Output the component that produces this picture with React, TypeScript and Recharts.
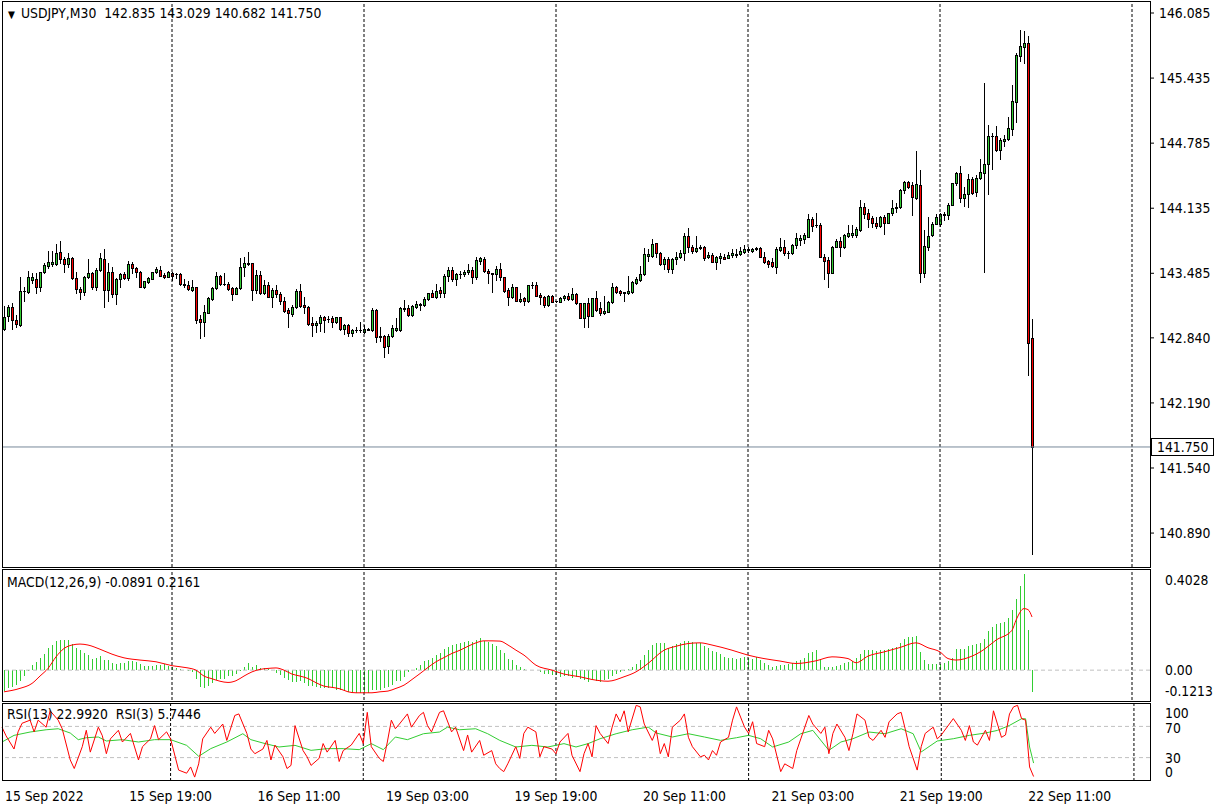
import React from 'react';
import { ComposedChart, Bar, Line, XAxis, YAxis, ReferenceLine } from 'recharts';

// USDJPY M30, 15 - 22 Sep 2022, one value per candle
const opens = [
  142.924, 143.057, 143.150, 143.017, 142.967, 143.304, 143.300, 143.417, 143.424, 143.344,
  143.494, 143.560, 143.574, 143.574, 143.697, 143.624, 143.574, 143.634, 143.434, 143.327,
  143.300, 143.450, 143.484, 143.350, 143.517, 143.624, 143.317, 143.494, 143.274, 143.424,
  143.474, 143.434, 143.577, 143.534, 143.500, 143.350, 143.400, 143.430, 143.494, 143.517,
  143.470, 143.450, 143.484, 143.477, 143.477, 143.380, 143.367, 143.317, 143.344, 143.027,
  143.000, 143.090, 143.227, 143.334, 143.457, 143.377, 143.377, 143.334, 143.277, 143.334,
  143.544, 143.584, 143.584, 143.317, 143.467, 143.284, 143.368, 143.251, 143.318, 143.278,
  143.211, 143.118, 143.075, 143.151, 143.308, 143.165, 143.145, 142.991, 142.965, 142.991,
  143.045, 143.031, 143.041, 143.001, 143.045, 142.925, 142.968, 142.885, 142.918, 142.921,
  142.898, 142.925, 142.918, 143.118, 142.861, 142.858, 142.758, 142.858, 142.917, 142.917,
  143.130, 143.134, 143.067, 143.150, 143.170, 143.167, 143.224, 143.284, 143.244, 143.317,
  143.290, 143.457, 143.514, 143.424, 143.477, 143.474, 143.494, 143.517, 143.444, 143.610,
  143.624, 143.510, 143.484, 143.474, 143.524, 143.444, 143.317, 143.244, 143.344, 143.210,
  143.234, 143.210, 143.367, 143.367, 143.267, 143.250, 143.167, 143.257, 143.207, 143.200,
  143.234, 143.257, 143.227, 143.274, 143.184, 143.040, 143.184, 143.060, 143.234, 143.134,
  143.084, 143.100, 143.194, 143.344, 143.307, 143.294, 143.284, 143.300, 143.390, 143.417,
  143.474, 143.660, 143.660, 143.784, 143.690, 143.577, 143.624, 143.524, 143.624, 143.644,
  143.684, 143.857, 143.750, 143.710, 143.740, 143.744, 143.644, 143.667, 143.600, 143.634,
  143.650, 143.640, 143.664, 143.664, 143.674, 143.700, 143.720, 143.707, 143.730, 143.734,
  143.650, 143.607, 143.594, 143.550, 143.717, 143.744, 143.690, 143.684, 143.767, 143.817,
  143.830, 143.850, 144.024, 143.967, 143.967, 143.650, 143.617, 143.490, 143.750, 143.807,
  143.744, 143.857, 143.867, 143.867, 143.917, 144.150, 144.090, 144.034, 143.990, 143.960,
  144.050, 143.990, 144.084, 144.134, 144.144, 144.317, 144.400, 144.367, 144.242, 144.365,
  143.488, 143.748, 143.865, 143.982, 143.975, 144.072, 144.072, 144.172, 144.382, 144.488,
  144.242, 144.282, 144.422, 144.298, 144.432, 144.488, 144.572, 144.852, 144.855, 144.715,
  144.808, 144.825, 144.925, 145.198, 145.658, 145.748, 145.782, 142.835,
];
const highs = [
  143.157, 143.167, 143.190, 143.067, 143.450, 143.344, 143.510, 143.484, 143.484, 143.500,
  143.584, 143.710, 143.710, 143.777, 143.807, 143.650, 143.684, 143.650, 143.500, 143.350,
  143.457, 143.624, 143.500, 143.534, 143.684, 143.724, 143.584, 143.544, 143.434, 143.484,
  143.500, 143.610, 143.600, 143.544, 143.507, 143.410, 143.450, 143.500, 143.550, 143.557,
  143.490, 143.510, 143.500, 143.490, 143.484, 143.424, 143.410, 143.417, 143.350, 143.067,
  143.167, 143.244, 143.344, 143.500, 143.467, 143.484, 143.394, 143.350, 143.350, 143.634,
  143.650, 143.694, 143.590, 143.517, 143.510, 143.417, 143.401, 143.335, 143.368, 143.301,
  143.251, 143.135, 143.168, 143.325, 143.375, 143.251, 143.158, 143.051, 143.011, 143.068,
  143.058, 143.058, 143.058, 143.051, 143.051, 142.978, 142.978, 142.925, 142.945, 143.001,
  142.968, 142.935, 143.135, 143.125, 142.951, 142.868, 142.875, 142.968, 143.034, 143.150,
  143.217, 143.167, 143.167, 143.210, 143.184, 143.244, 143.290, 143.317, 143.377, 143.350,
  143.477, 143.544, 143.544, 143.484, 143.510, 143.517, 143.577, 143.544, 143.644, 143.644,
  143.650, 143.524, 143.490, 143.557, 143.584, 143.450, 143.334, 143.377, 143.350, 143.284,
  143.244, 143.367, 143.400, 143.400, 143.284, 143.257, 143.267, 143.264, 143.210, 143.250,
  143.267, 143.290, 143.334, 143.284, 143.190, 143.190, 143.234, 143.240, 143.307, 143.200,
  143.257, 143.210, 143.390, 143.357, 143.317, 143.300, 143.457, 143.410, 143.450, 143.557,
  143.734, 143.724, 143.824, 143.790, 143.700, 143.650, 143.644, 143.634, 143.700, 143.717,
  143.884, 143.934, 143.767, 143.857, 143.767, 143.757, 143.700, 143.684, 143.657, 143.690,
  143.677, 143.700, 143.724, 143.724, 143.744, 143.767, 143.744, 143.734, 143.744, 143.744,
  143.700, 143.617, 143.634, 143.750, 143.834, 143.817, 143.710, 143.777, 143.890, 143.867,
  143.884, 144.074, 144.044, 144.084, 143.984, 143.677, 143.644, 143.757, 143.824, 143.844,
  143.874, 143.967, 143.967, 143.950, 144.217, 144.190, 144.124, 144.057, 144.050, 144.057,
  144.067, 144.090, 144.217, 144.184, 144.324, 144.410, 144.410, 144.400, 144.705, 144.515,
  143.915, 144.048, 143.998, 144.075, 144.088, 144.098, 144.188, 144.388, 144.498, 144.555,
  144.342, 144.472, 144.442, 144.465, 144.622, 145.388, 144.965, 144.882, 144.955, 144.832,
  144.865, 145.042, 145.365, 145.682, 145.915, 145.905, 145.855, 143.029,
];
const lows = [
  142.917, 143.010, 142.924, 142.950, 142.957, 143.210, 143.290, 143.390, 143.290, 143.310,
  143.484, 143.540, 143.557, 143.564, 143.584, 143.500, 143.550, 143.424, 143.284, 143.224,
  143.264, 143.440, 143.324, 143.317, 143.504, 143.150, 143.207, 143.250, 143.177, 143.350,
  143.424, 143.417, 143.490, 143.450, 143.344, 143.340, 143.390, 143.424, 143.484, 143.457,
  143.434, 143.444, 143.417, 143.440, 143.367, 143.350, 143.317, 143.310, 142.990, 142.834,
  142.860, 143.084, 143.217, 143.327, 143.367, 143.367, 143.317, 143.217, 143.274, 143.327,
  143.457, 143.567, 143.217, 143.284, 143.277, 143.277, 143.245, 143.151, 143.245, 143.178,
  143.101, 142.951, 143.061, 143.135, 143.145, 143.085, 142.968, 142.861, 142.901, 142.911,
  142.901, 143.001, 142.945, 142.991, 142.918, 142.875, 142.858, 142.858, 142.901, 142.901,
  142.885, 142.918, 142.911, 142.801, 142.811, 142.645, 142.691, 142.845, 142.910, 142.910,
  143.110, 143.057, 143.057, 143.140, 143.117, 143.157, 143.217, 143.244, 143.234, 143.244,
  143.244, 143.410, 143.410, 143.367, 143.434, 143.457, 143.474, 143.384, 143.427, 143.577,
  143.500, 143.390, 143.300, 143.417, 143.417, 143.300, 143.167, 143.234, 143.207, 143.200,
  143.167, 143.200, 143.334, 143.257, 143.177, 143.150, 143.157, 143.197, 143.197, 143.194,
  143.217, 143.217, 143.217, 143.177, 143.034, 142.944, 142.950, 143.057, 143.110, 143.067,
  143.077, 143.094, 143.184, 143.290, 143.267, 143.210, 143.277, 143.290, 143.377, 143.410,
  143.467, 143.610, 143.650, 143.650, 143.567, 143.524, 143.500, 143.490, 143.577, 143.634,
  143.617, 143.700, 143.690, 143.700, 143.724, 143.617, 143.634, 143.594, 143.524, 143.584,
  143.624, 143.634, 143.650, 143.650, 143.667, 143.690, 143.700, 143.700, 143.717, 143.644,
  143.590, 143.550, 143.544, 143.484, 143.710, 143.667, 143.634, 143.677, 143.734, 143.767,
  143.784, 143.844, 143.910, 143.950, 143.644, 143.424, 143.344, 143.484, 143.744, 143.657,
  143.734, 143.850, 143.850, 143.844, 143.910, 144.034, 143.950, 143.944, 143.934, 143.950,
  143.874, 143.984, 144.067, 144.100, 144.134, 144.290, 144.334, 144.067, 144.232, 143.398,
  143.448, 143.715, 143.855, 143.975, 143.955, 144.022, 144.025, 144.165, 144.365, 144.198,
  144.155, 144.148, 144.282, 144.255, 144.422, 143.498, 144.282, 144.522, 144.708, 144.622,
  144.755, 144.815, 144.865, 144.998, 145.608, 145.582, 142.469, 140.682,
];
const closes = [
  143.050, 143.144, 143.017, 142.974, 143.307, 143.310, 143.444, 143.450, 143.344, 143.494,
  143.567, 143.594, 143.600, 143.690, 143.624, 143.574, 143.634, 143.434, 143.324, 143.300,
  143.450, 143.484, 143.350, 143.517, 143.634, 143.317, 143.494, 143.274, 143.424, 143.477,
  143.434, 143.577, 143.534, 143.500, 143.350, 143.407, 143.434, 143.494, 143.527, 143.460,
  143.444, 143.494, 143.457, 143.474, 143.374, 143.364, 143.324, 143.344, 143.017, 143.000,
  143.094, 143.234, 143.334, 143.457, 143.374, 143.380, 143.327, 143.277, 143.334, 143.544,
  143.584, 143.580, 143.317, 143.467, 143.284, 143.367, 143.251, 143.318, 143.275, 143.211,
  143.111, 143.085, 143.151, 143.308, 143.158, 143.151, 142.978, 142.965, 142.991, 143.045,
  143.018, 143.025, 143.001, 143.045, 142.925, 142.968, 142.885, 142.918, 142.915, 142.918,
  142.925, 142.921, 143.118, 142.851, 142.851, 142.751, 142.858, 142.935, 142.934, 143.134,
  143.137, 143.067, 143.157, 143.174, 143.174, 143.227, 143.284, 143.250, 143.310, 143.290,
  143.457, 143.514, 143.424, 143.477, 143.474, 143.497, 143.517, 143.444, 143.617, 143.634,
  143.510, 143.484, 143.480, 143.524, 143.444, 143.310, 143.244, 143.344, 143.210, 143.230,
  143.210, 143.367, 143.364, 143.260, 143.250, 143.167, 143.257, 143.200, 143.204, 143.240,
  143.257, 143.230, 143.274, 143.184, 143.040, 143.184, 143.060, 143.234, 143.117, 143.084,
  143.107, 143.200, 143.344, 143.300, 143.290, 143.290, 143.307, 143.400, 143.424, 143.477,
  143.677, 143.677, 143.777, 143.690, 143.577, 143.624, 143.524, 143.624, 143.650, 143.690,
  143.857, 143.744, 143.710, 143.734, 143.744, 143.634, 143.667, 143.600, 143.644, 143.657,
  143.630, 143.667, 143.684, 143.680, 143.710, 143.727, 143.724, 143.727, 143.734, 143.650,
  143.600, 143.580, 143.554, 143.724, 143.744, 143.684, 143.687, 143.767, 143.834, 143.837,
  143.867, 144.024, 143.960, 143.964, 143.650, 143.610, 143.490, 143.750, 143.807, 143.750,
  143.867, 143.887, 143.887, 143.924, 144.150, 144.077, 144.030, 143.984, 143.960, 144.050,
  143.990, 144.084, 144.134, 144.150, 144.317, 144.400, 144.350, 144.244, 144.372, 143.488,
  143.755, 143.855, 143.982, 144.048, 144.075, 144.075, 144.172, 144.382, 144.488, 144.242,
  144.282, 144.422, 144.288, 144.432, 144.492, 144.572, 144.855, 144.855, 144.715, 144.815,
  144.828, 144.932, 145.205, 145.665, 145.755, 145.782, 142.785, 141.750,
];

// MACD(12,26,9) main line, drawn as histogram
const macdHist = [
  -0.084, -0.074, -0.068, -0.061, -0.043, -0.024, -0.003, 0.020, 0.034, 0.050,
  0.065, 0.088, 0.102, 0.118, 0.122, 0.122, 0.122, 0.106, 0.088, 0.081,
  0.070, 0.060, 0.047, 0.051, 0.057, 0.043, 0.043, 0.027, 0.024, 0.027,
  0.030, 0.038, 0.038, 0.032, 0.024, 0.016, 0.016, 0.018, 0.020, 0.020,
  0.023, 0.016, 0.014, 0.009, 0.004, 0.001, -0.002, -0.007, -0.034, -0.068,
  -0.074, -0.065, -0.054, -0.041, -0.038, -0.034, -0.024, -0.022, -0.016, -0.003,
  0.011, 0.027, 0.014, 0.019, 0.009, 0.007, 0.003, 0.000, -0.011, -0.018,
  -0.030, -0.041, -0.047, -0.047, -0.043, -0.054, -0.065, -0.065, -0.068, -0.074,
  -0.074, -0.074, -0.074, -0.079, -0.081, -0.084, -0.088, -0.092, -0.092, -0.092,
  -0.092, -0.092, -0.081, -0.079, -0.079, -0.074, -0.070, -0.061, -0.043, -0.043,
  -0.027, -0.007, 0.000, 0.007, 0.020, 0.038, 0.043, 0.051, 0.061, 0.070,
  0.084, 0.095, 0.102, 0.108, 0.111, 0.115, 0.118, 0.115, 0.122, 0.129,
  0.119, 0.115, 0.108, 0.097, 0.081, 0.068, 0.047, 0.041, 0.020, 0.011,
  0.003, 0.000, 0.001, 0.000, -0.007, -0.014, -0.016, -0.020, -0.020, -0.027,
  -0.024, -0.024, -0.030, -0.027, -0.038, -0.041, -0.047, -0.041, -0.045, -0.047,
  -0.041, -0.038, -0.024, -0.014, -0.007, -0.003, 0.003, 0.014, 0.024, 0.041,
  0.061, 0.081, 0.102, 0.111, 0.111, 0.111, 0.088, 0.097, 0.106, 0.111,
  0.118, 0.118, 0.115, 0.111, 0.111, 0.097, 0.088, 0.077, 0.075, 0.065,
  0.054, 0.051, 0.051, 0.047, 0.050, 0.054, 0.051, 0.047, 0.054, 0.041,
  0.027, 0.020, 0.011, 0.016, 0.020, 0.020, 0.023, 0.027, 0.038, 0.043,
  0.051, 0.070, 0.075, 0.081, 0.047, 0.011, 0.011, 0.014, 0.016, 0.020,
  0.027, 0.034, 0.038, 0.051, 0.065, 0.081, 0.081, 0.081, 0.079, 0.081,
  0.081, 0.084, 0.088, 0.092, 0.111, 0.125, 0.135, 0.135, 0.138, 0.075,
  0.043, 0.024, 0.024, 0.024, 0.024, 0.027, 0.038, 0.051, 0.084, 0.084,
  0.084, 0.097, 0.102, 0.106, 0.111, 0.125, 0.158, 0.176, 0.187, 0.190,
  0.196, 0.210, 0.244, 0.291, 0.341, 0.390, 0.162, -0.0891,
];

// signal line, read at these candle indexes
const signalIdx = [
  0, 4, 7, 9, 11, 13, 15, 17, 19, 21, 24, 27, 30, 34, 38, 42, 46, 48, 50, 52, 54, 56, 58, 60, 62,
  64, 66, 68, 70, 72, 74, 76, 78, 80, 82, 84, 86, 88, 90, 92, 94, 96, 98, 100, 102, 104, 106, 108,
  110, 112, 114, 116, 118, 120, 122, 124, 126, 128, 130, 133, 137, 140, 144, 147, 151, 155, 158,
  161, 165, 168, 171, 174, 177, 182, 186, 190, 194, 198, 203, 207, 211, 213, 216, 220, 224, 228,
  231, 234, 236, 238, 242, 245, 248, 252, 253, 255, 256, 257,
];
const signalVal = [
  -0.088, -0.074, -0.054, -0.024, 0.007, 0.054, 0.088, 0.102, 0.106, 0.102, 0.085, 0.065, 0.050,
  0.041, 0.034, 0.018, 0.009, 0.000, -0.024, -0.035, -0.045, -0.050, -0.043, -0.024, -0.007,
  0.003, 0.007, 0.009, 0.000, -0.016, -0.024, -0.034, -0.051, -0.065, -0.070, -0.076, -0.088,
  -0.092, -0.092, -0.092, -0.088, -0.085, -0.074, -0.061, -0.038, -0.014, 0.011, 0.034,
  0.051, 0.068, 0.081, 0.097, 0.111, 0.119, 0.119, 0.118, 0.102, 0.081, 0.061, 0.020, 0.000,
  -0.016, -0.027, -0.038, -0.045, -0.027, -0.007, 0.027, 0.081, 0.097, 0.108, 0.111, 0.102,
  0.081, 0.061, 0.047, 0.037, 0.027, 0.038, 0.054, 0.047, 0.030, 0.057, 0.074, 0.092, 0.111,
  0.091, 0.074, 0.047, 0.041, 0.057, 0.084, 0.122, 0.162, 0.203, 0.250, 0.246, 0.2161,
];

// RSI(13), read at these candle indexes
const rsi13Idx = [
  0, 3, 7, 11, 14, 17, 19, 21, 24, 26, 30, 34, 38, 42, 46, 49, 52, 56, 60, 62, 65, 69, 73, 77, 81,
  85, 89, 92, 95, 98, 101, 105, 109, 111, 114, 118, 121, 124, 128, 132, 136, 140, 143, 146, 149,
  153, 157, 161, 163, 167, 171, 175, 179, 183, 186, 189, 192, 196, 199, 202, 206, 209, 212, 216,
  220, 224, 227, 229, 233, 237, 241, 245, 248, 251, 254, 255, 256, 257,
];
const rsi13Val = [
  50.0, 58.5, 62.8, 65.7, 67.0, 61.5, 53.0, 55.5, 56.4, 51.3, 53.0, 50.0, 53.0, 53.0, 45.7, 31.7,
  41.5, 50.0, 60.6, 53.0, 48.7, 43.6, 45.7, 39.3, 41.5, 41.5, 40.2, 47.9, 40.2, 56.4, 53.0, 60.6,
  62.8, 69.1, 65.7, 67.0, 60.6, 52.1, 43.6, 45.7, 43.6, 47.9, 43.6, 47.9, 54.2, 60.6, 65.7, 69.1,
  61.5, 56.4, 60.6, 56.4, 52.1, 55.5, 58.5, 54.2, 43.6, 50.0, 60.6, 64.9, 39.3, 50.0, 54.2, 62.8,
  60.6, 67.0, 60.6, 37.2, 51.3, 54.2, 58.5, 61.5, 64.9, 71.3, 79.8, 79.8, 43.6, 22.992,
];

// RSI(3), read at these candle indexes
const rsi3Idx = [
  0, 1, 3, 4, 5, 7, 8, 9, 11, 12, 14, 15, 17, 18, 20, 21, 22, 24, 25, 26, 27, 29, 30, 32, 34, 35,
  37, 38, 39, 41, 42, 44, 46, 47, 48, 49, 50, 52, 53, 55, 56, 58, 59, 61, 62, 63, 65, 66, 67, 68,
  70, 71, 72, 73, 75, 76, 77, 79, 80, 81, 83, 84, 85, 87, 89, 90, 91, 92, 94, 95, 96, 97, 98, 99,
  101, 102, 104, 105, 106, 107, 109, 110, 112, 113, 115, 116, 117, 119, 120, 122, 123, 124, 125,
  126, 128, 129, 130, 131, 133, 134, 135, 137, 138, 139, 141, 142, 144, 145, 146, 147, 148, 149,
  151, 152, 153, 154, 155, 156, 158, 159, 160, 162, 163, 164, 165, 166, 167, 169, 170, 171, 172,
  174, 175, 176, 177, 178, 179, 181, 182, 183, 185, 186, 187, 188, 190, 191, 192, 194, 195, 197,
  198, 199, 201, 202, 204, 205, 206, 207, 208, 210, 211, 212, 213, 215, 216, 217, 219, 220, 221,
  223, 224, 225, 226, 228, 229, 230, 232, 233, 234, 236, 237, 239, 240, 241, 242, 243, 245, 246,
  247, 249, 250, 251, 252, 253, 254, 255, 256, 257,
];
const rsi3Val = [
  69, 58, 41, 63, 74, 78, 63, 78, 69, 90, 78, 67, 27, 16, 44, 65, 37, 69, 58, 35, 54, 65, 50, 61,
  27, 44, 54, 71, 53, 63, 54, 14, 10, 18, 5, 22, 54, 69, 61, 73, 52, 84, 86, 61, 41, 35, 41, 52,
  27, 46, 31, 16, 20, 71, 39, 31, 20, 29, 48, 37, 52, 25, 39, 46, 61, 48, 88, 44, 29, 25, 50, 78,
  67, 73, 86, 69, 84, 88, 71, 63, 88, 90, 63, 69, 39, 59, 37, 52, 33, 39, 22, 16, 12, 22, 44, 29,
  61, 69, 63, 31, 44, 41, 35, 50, 61, 33, 12, 35, 48, 31, 71, 61, 48, 69, 86, 76, 90, 63, 97, 95,
  73, 52, 65, 35, 48, 31, 69, 78, 86, 56, 44, 31, 33, 27, 39, 33, 50, 56, 78, 95, 69, 61, 76, 48,
  44, 65, 54, 12, 22, 16, 39, 54, 84, 73, 61, 69, 35, 61, 73, 56, 39, 61, 86, 78, 56, 52, 65, 56,
  76, 86, 88, 67, 44, 14, 44, 61, 69, 54, 59, 73, 80, 65, 52, 71, 50, 46, 65, 52, 90, 56, 59, 86,
  95, 97, 80, 78, 18, 5.7446,
];

const SLOTS = 287; // the terminal keeps empty room right of the last candle
const gridBars = [42, 90, 138, 186, 234, 282];
const timeTicks = [0, 42, 74, 106, 138, 170, 202, 234, 266];
const timeLabels = [
  '15 Sep 2022', '15 Sep 19:00', '16 Sep 11:00', '19 Sep 03:00', '19 Sep 19:00',
  '20 Sep 11:00', '21 Sep 03:00', '21 Sep 19:00', '22 Sep 11:00',
];
const priceTicks = [146.085, 145.435, 144.785, 144.135, 143.485, 142.84, 142.19, 141.54, 140.89];
const macdTicks = [0.4028, 0, -0.1213];
const rsiTicks = [100, 70, 30, 0];
const lastPrice = 141.75;

const FONT = "Tahoma, 'DejaVu Sans Condensed', 'Liberation Sans', Arial, sans-serif";
const FS = 13.8;
const BULL = '#32cd32';
const BEAR = '#ff0000';
const HIST = '#32cd32';

const rows: any[] = Array.from({ length: SLOTS }, (_, i) =>
  i < closes.length
    ? { i, o: opens[i], h: highs[i], l: lows[i], c: closes[i], range: [lows[i], highs[i]], macd: macdHist[i] }
    : { i }
);
signalIdx.forEach((k, n) => (rows[k].signal = signalVal[n]));
rsi13Idx.forEach((k, n) => (rows[k].rsi13 = rsi13Val[n]));
rsi3Idx.forEach((k, n) => (rows[k].rsi3 = rsi3Val[n]));

const Candle = (props: any) => {
  const { x, y, width, height, payload } = props;
  if (!payload || payload.h == null) return null;
  const { o, h, l, c } = payload;
  const top = Math.min(y, y + height);
  const span = Math.abs(height);
  const k = h > l ? span / (h - l) : 0;
  const py = (v: number) => top + (h - v) * k;
  const cx = Math.floor(x + width / 2);
  const bTop = Math.round(py(Math.max(o, c)));
  const bBot = Math.round(py(Math.min(o, c)));
  return (
    <g>
      <line x1={cx + 0.5} x2={cx + 0.5} y1={Math.round(top)} y2={Math.round(top + span) + 1} stroke="#000" />
      {bBot - bTop < 1 ? (
        <line x1={cx - 1} x2={cx + 2} y1={bTop + 0.5} y2={bTop + 0.5} stroke="#000" />
      ) : (
        <rect x={cx - 0.5} y={bTop + 0.5} width={2} height={bBot - bTop} fill={c >= o ? BULL : BEAR} stroke="#000" />
      )}
    </g>
  );
};

const HistBar = (props: any) => {
  const { x, y, width, height, payload } = props;
  if (!payload || payload.macd == null) return null;
  const cx = Math.floor(x + width / 2);
  const top = Math.round(Math.min(y, y + height));
  const bot = Math.round(Math.max(y, y + height));
  if (bot - top < 1) return null;
  return <rect x={cx} y={top} width={1} height={bot - top} fill={HIST} />;
};

const PriceTick = (props: any) => {
  const { x, y, payload } = props;
  return (
    <text x={x} y={y} dy={5} textAnchor="start" fontSize={FS} fontFamily={FONT} fill="#000">
      {payload.value.toFixed(3)}
    </text>
  );
};

const MacdTick = (props: any) => {
  const { x, y, payload } = props;
  const v = payload.value;
  const shift = v > 0.3 ? 9 : v < 0 ? -9 : 0;
  const label = v === 0 ? '0.00' : v.toFixed(4);
  return (
    <text x={x} y={y + shift} dy={5} textAnchor="start" fontSize={FS} fontFamily={FONT} fill="#000">
      {label}
    </text>
  );
};

const RsiTick = (props: any) => {
  const { x, y, payload } = props;
  const v = payload.value;
  const shift = v === 100 ? 10 : v === 0 ? -9 : v === 70 ? 2 : 0;
  return (
    <text x={x} y={y + shift} dy={5} textAnchor="start" fontSize={FS} fontFamily={FONT} fill="#000">
      {v}
    </text>
  );
};

const TimeTick = (props: any) => {
  const { x, y, payload } = props;
  const n = timeTicks.indexOf(payload.value);
  if (n < 0) return null;
  return (
    <text x={n === 0 ? 5 : x} y={y} dy={11} textAnchor={n === 0 ? 'start' : 'middle'} fontSize={FS} fontFamily={FONT} fill="#000">
      {timeLabels[n]}
    </text>
  );
};

const BidLabel = (props: any) => {
  const { viewBox } = props;
  const bx = viewBox.x + viewBox.width + 1;
  const by = Math.round(viewBox.y);
  return (
    <g>
      <rect x={bx + 0.5} y={by - 8.5} width={62} height={17} fill="#fff" stroke="#000" />
      <text x={bx + 6} y={by + 5} fontSize={FS} fontFamily={FONT} fill="#000">
        {lastPrice.toFixed(3)}
      </text>
    </g>
  );
};

const frame = (top: number, height: number): React.CSSProperties => ({
  position: 'absolute', left: 2, top, width: 1147, height, border: '1px solid #000', pointerEvents: 'none',
});

const vGrid = (prefix: string) =>
  gridBars.map((k) => (
    <ReferenceLine key={prefix + k} x={k} stroke="#000" strokeDasharray="3 2" ifOverflow="visible" />
  ));

const text = (left: number, top: number): React.CSSProperties => ({
  position: 'absolute', left, top, fontFamily: FONT, fontSize: FS, color: '#000', whiteSpace: 'pre', lineHeight: '16px',
});

export default function App() {
  return (
    <div style={{ position: 'relative', width: 1224, height: 807, background: '#fff', overflow: 'hidden' }}>
      <style>{'body{margin:0;background:#fff}'}</style>

      {/* price panel */}
      <div style={{ position: 'absolute', left: 0, top: 0 }}>
        <ComposedChart width={1224} height={568} data={rows} margin={{ top: 1, right: 0, bottom: 1, left: 2 }} barCategoryGap={0}>
          <XAxis dataKey="i" type="category" hide />
          <YAxis orientation="right" width={74} domain={[140.551, 146.205]} allowDataOverflow ticks={priceTicks}
            tick={<PriceTick />} axisLine={false} tickLine={{ stroke: '#000' }} tickSize={4} tickMargin={5} interval={0} />
          {vGrid('p')}
          <ReferenceLine y={lastPrice} stroke="#778899" label={<BidLabel />} />
          <Bar dataKey="range" shape={<Candle />} isAnimationActive={false} />
        </ComposedChart>
      </div>
      <div style={frame(1, 565)} />
      <div style={text(8, 5)}>
        <span style={{ fontSize: 10, marginRight: 6 }}>{'\u25BC'}</span>USDJPY,M30  142.835 143.029 140.682 141.750
      </div>

      {/* MACD panel */}
      <div style={{ position: 'absolute', left: 0, top: 569 }}>
        <ComposedChart width={1224} height={133} data={rows} margin={{ top: 2, right: 0, bottom: 2, left: 2 }} barCategoryGap={0}>
          <XAxis dataKey="i" type="category" hide />
          <YAxis orientation="right" width={74} domain={[-0.1213, 0.4028]} allowDataOverflow ticks={macdTicks}
            tick={<MacdTick />} axisLine={false} tickLine={false} tickMargin={9} interval={0} />
          {vGrid('m')}
          <ReferenceLine y={0} stroke="#c0c0c0" strokeDasharray="4 3" />
          <Bar dataKey="macd" shape={<HistBar />} isAnimationActive={false} />
          <Line dataKey="signal" stroke="#ff0000" strokeWidth={1} dot={false} connectNulls type="monotone" isAnimationActive={false} />
        </ComposedChart>
      </div>
      <div style={frame(569, 131)} />
      <div style={text(7, 574)}>MACD(12,26,9) -0.0891 0.2161</div>

      {/* RSI panel */}
      <div style={{ position: 'absolute', left: 0, top: 702 }}>
        <ComposedChart width={1224} height={105} data={rows} margin={{ top: 1, right: 0, bottom: 0, left: 2 }}>
          <XAxis dataKey="i" type="category" ticks={timeTicks} interval={0} tick={<TimeTick />} axisLine={false} tickLine={false} tickMargin={3} height={26} />
          <YAxis orientation="right" width={74} domain={[0, 100]} allowDataOverflow ticks={rsiTicks}
            tick={<RsiTick />} axisLine={false} tickLine={false} tickMargin={9} interval={0} />
          {vGrid('r')}
          <ReferenceLine y={70} stroke="#c0c0c0" strokeDasharray="4 3" />
          <ReferenceLine y={30} stroke="#c0c0c0" strokeDasharray="4 3" />
          <Line dataKey="rsi13" stroke="#32cd32" strokeWidth={1} dot={false} connectNulls type="linear" isAnimationActive={false} />
          <Line dataKey="rsi3" stroke="#ff0000" strokeWidth={1} dot={false} connectNulls type="linear" isAnimationActive={false} />
        </ComposedChart>
      </div>
      <div style={frame(703, 76)} />
      <div style={text(7, 706)}>RSI(13) 22.9920  RSI(3) 5.7446</div>
    </div>
  );
}
